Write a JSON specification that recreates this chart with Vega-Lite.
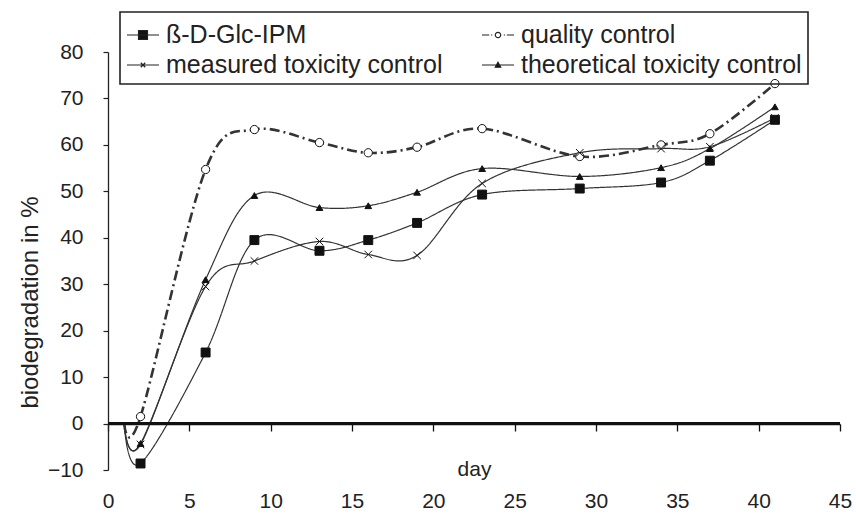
{
  "$schema": "https://vega.github.io/schema/vega-lite/v6.json",
  "width": 732,
  "height": 418,
  "autosize": {"type": "none"},
  "padding": {"left": 108, "top": 52, "right": 16, "bottom": 52},
  "background": "white",
  "config": {
    "view": {"stroke": null},
    "font": "Liberation Sans",
    "legend": {"strokeWidth": 1.6}
  },
  "data": {
    "values": [
      {"series": "ß-D-Glc-IPM", "day": 1, "value": 0},
      {"series": "ß-D-Glc-IPM", "day": 2, "value": -8.6},
      {"series": "ß-D-Glc-IPM", "day": 6, "value": 15.3},
      {"series": "ß-D-Glc-IPM", "day": 9, "value": 39.5},
      {"series": "ß-D-Glc-IPM", "day": 13, "value": 37.2},
      {"series": "ß-D-Glc-IPM", "day": 16, "value": 39.5},
      {"series": "ß-D-Glc-IPM", "day": 19, "value": 43.2},
      {"series": "ß-D-Glc-IPM", "day": 23, "value": 49.3},
      {"series": "ß-D-Glc-IPM", "day": 29, "value": 50.6},
      {"series": "ß-D-Glc-IPM", "day": 34, "value": 51.9},
      {"series": "ß-D-Glc-IPM", "day": 37, "value": 56.6},
      {"series": "ß-D-Glc-IPM", "day": 41, "value": 65.4},
      {"series": "quality control", "day": 1, "value": 0},
      {"series": "quality control", "day": 2, "value": 1.5},
      {"series": "quality control", "day": 6, "value": 54.7},
      {"series": "quality control", "day": 9, "value": 63.3},
      {"series": "quality control", "day": 13, "value": 60.5},
      {"series": "quality control", "day": 16, "value": 58.3},
      {"series": "quality control", "day": 19, "value": 59.5},
      {"series": "quality control", "day": 23, "value": 63.5},
      {"series": "quality control", "day": 29, "value": 57.5},
      {"series": "quality control", "day": 34, "value": 60},
      {"series": "quality control", "day": 37, "value": 62.4},
      {"series": "quality control", "day": 41, "value": 73.2},
      {"series": "measured toxicity control", "day": 1, "value": 0},
      {"series": "measured toxicity control", "day": 2, "value": -4.5},
      {"series": "measured toxicity control", "day": 6, "value": 29.5},
      {"series": "measured toxicity control", "day": 9, "value": 35},
      {"series": "measured toxicity control", "day": 13, "value": 39.2},
      {"series": "measured toxicity control", "day": 16, "value": 36.4},
      {"series": "measured toxicity control", "day": 19, "value": 36.2},
      {"series": "measured toxicity control", "day": 23, "value": 51.7},
      {"series": "measured toxicity control", "day": 29, "value": 58.3},
      {"series": "measured toxicity control", "day": 34, "value": 59.2},
      {"series": "measured toxicity control", "day": 37, "value": 59.6},
      {"series": "measured toxicity control", "day": 41, "value": 65.8},
      {"series": "theoretical toxicity control", "day": 1, "value": 0},
      {"series": "theoretical toxicity control", "day": 2, "value": -4.3},
      {"series": "theoretical toxicity control", "day": 6, "value": 31},
      {"series": "theoretical toxicity control", "day": 9, "value": 49.1},
      {"series": "theoretical toxicity control", "day": 13, "value": 46.5},
      {"series": "theoretical toxicity control", "day": 16, "value": 46.9},
      {"series": "theoretical toxicity control", "day": 19, "value": 49.8},
      {"series": "theoretical toxicity control", "day": 23, "value": 54.9},
      {"series": "theoretical toxicity control", "day": 29, "value": 53.2},
      {"series": "theoretical toxicity control", "day": 34, "value": 55.1},
      {"series": "theoretical toxicity control", "day": 37, "value": 59.2},
      {"series": "theoretical toxicity control", "day": 41, "value": 68.2}
    ]
  },
  "resolve": {
    "scale": {"shape": "independent", "fill": "independent", "stroke": "independent", "size": "independent"}
  },
  "layer": [
    {
      "mark": {"type": "line", "interpolate": "cardinal", "stroke": "#333"},
      "encoding": {
        "x": {
          "field": "day", "type": "quantitative",
          "scale": {"domain": [0, 45]},
          "axis": {"offset": -46, "tickCount": 9, "gridOpacity": 0, "domainColor": "#111", "domainWidth": 1.5, "tickSize": 7, "tickColor": "#111", "tickWidth": 1.3, "labelPadding": 59, "labelFontSize": 21, "labelColor": "#222", "labelFont": "Liberation Sans", "labelFlush": false, "title": "day", "titleFontSize": 21, "titleFontWeight": "normal", "titleColor": "#222", "titleFont": "Liberation Sans", "titleY": 51, "titleBaseline": "alphabetic"}
        },
        "y": {
          "field": "value", "type": "quantitative",
          "scale": {"domain": [-10, 80], "nice": false, "zero": false},
          "axis": {"values": [-10, 0, 10, 20, 30, 40, 50, 60, 70, 80], "grid": false, "domainColor": "#222", "domainWidth": 1.3, "tickSize": 5, "tickColor": "#222", "tickWidth": 1.2, "labelPadding": 20, "labelFontSize": 21, "labelColor": "#222", "labelFont": "Liberation Sans", "title": "biodegradation in %", "titleFontSize": 24, "titleFontWeight": "normal", "titleColor": "#222", "titleFont": "Liberation Sans", "titleX": -66, "titleY": 250, "titleBaseline": "bottom"}
        },
        "detail": {"field": "series"},
        "strokeWidth": {"condition": {"test": "datum.series === 'quality control'", "value": 2.6}, "value": 1.2},
        "strokeDash": {"condition": {"test": "datum.series === 'quality control'", "value": [10, 4, 2, 4]}, "value": [1, 0]}
      }
    },
    {
      "transform": [{"filter": "datum.day > 1"}],
      "mark": {"type": "point", "filled": true, "stroke": "#111", "strokeWidth": 1, "opacity": 1},
      "encoding": {
        "x": {"field": "day", "type": "quantitative"},
        "y": {"field": "value", "type": "quantitative"},
        "shape": {
          "field": "series", "type": "nominal",
          "scale": {"domain": ["ß-D-Glc-IPM", "quality control", "measured toxicity control", "theoretical toxicity control"], "range": ["square", "circle", "M-1,-1L1,1M-1,1L1,-1", "triangle-up"]},
          "legend": null
        },
        "fill": {
          "field": "series", "type": "nominal",
          "scale": {"domain": ["ß-D-Glc-IPM", "quality control", "measured toxicity control", "theoretical toxicity control"], "range": ["#111", "#fff", "#fff", "#111"]},
          "legend": null
        },
        "size": {
          "field": "series", "type": "nominal",
          "scale": {"domain": ["ß-D-Glc-IPM", "quality control", "measured toxicity control", "theoretical toxicity control"], "range": [80, 45, 30, 22]},
          "legend": null
        }
      }
    },
    {
      "mark": {"type": "rule", "stroke": "#111", "strokeWidth": 1.6},
      "encoding": {"y": {"datum": 0, "type": "quantitative"}}
    },
    {
      "transform": [{"filter": "false"}],
      "mark": {"type": "point", "filled": true, "strokeWidth": 1.2},
      "encoding": {
        "shape": {
          "field": "series", "type": "nominal",
          "scale": {"domain": ["ß-D-Glc-IPM", "quality control", "measured toxicity control", "theoretical toxicity control"],
            "range": [
              "M-1,0H1M-0.28,-0.28H0.28V0.28H-0.28Z",
              "M-1,0H-0.55M-0.44,0H-0.36M0.36,0H0.44M0.55,0H1M0.17,0A0.17,0.17,0,1,1,-0.17,0A0.17,0.17,0,1,1,0.17,0Z",
              "M-1,0H1M-0.14,-0.14L0.14,0.14M-0.14,0.14L0.14,-0.14",
              "M-1,0H1M0,-0.17L0.17,0.14H-0.17Z"
            ]},
          "legend": {"orient": "none", "legendX": 12, "legendY": -40, "direction": "horizontal", "columns": 2, "columnPadding": 36, "rowPadding": 0, "padding": 6, "strokeColor": "#222", "labelFontSize": 25, "labelFont": "Liberation Sans", "labelColor": "#222", "labelOffset": 6, "labelLimit": 500, "symbolSize": 1024, "symbolStrokeWidth": 1.2, "symbolOpacity": 1, "title": null}
        },
        "fill": {
          "field": "series", "type": "nominal",
          "scale": {"domain": ["ß-D-Glc-IPM", "quality control", "measured toxicity control", "theoretical toxicity control"], "range": ["#111", "#fff", "transparent", "#111"]}
        },
        "stroke": {
          "field": "series", "type": "nominal",
          "scale": {"domain": ["ß-D-Glc-IPM", "quality control", "measured toxicity control", "theoretical toxicity control"], "range": ["#222", "#222", "#222", "#222"]}
        }
      }
    }
  ]
}
